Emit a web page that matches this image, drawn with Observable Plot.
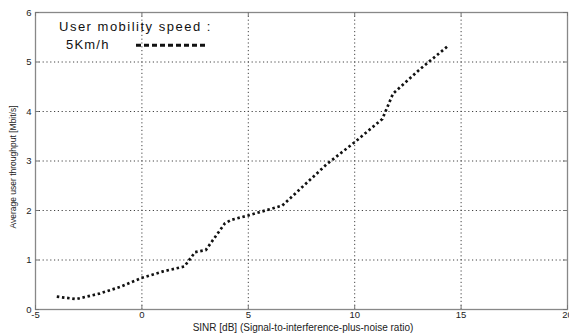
<!DOCTYPE html>
<html>
<head>
<meta charset="utf-8">
<script src="https://cdn.jsdelivr.net/npm/d3@7"></script>
<script src="https://cdn.jsdelivr.net/npm/@observablehq/plot@0.6"></script>
<style>
  html, body { margin: 0; padding: 0; background: #fff; }
</style>
</head>
<body>
<div id="chart"></div>
<script>
// Average user throughput versus SINR, 5 km/h mobility
const sinr       = [-4, -3.1, -2, -1, 0, 1, 2, 2.5, 3, 3.9, 4.2, 5, 6.6, 8.7, 10, 11.3, 11.8, 13, 14.4];
const throughput = [0.26, 0.21, 0.32, 0.46, 0.64, 0.77, 0.87, 1.16, 1.2, 1.74, 1.81, 1.9, 2.1, 2.94, 3.38, 3.85, 4.36, 4.83, 5.33];

const xTicks = [-5, 0, 5, 10, 15, 20];
const yTicks = [0, 1, 2, 3, 4, 5, 6];

const legendTitle = "User mobility speed :";
const seriesName  = "5Km/h";
const xLabel = "SINR [dB] (Signal-to-interference-plus-noise ratio)";
const yLabel = "Average user throughput [Mbit/s]";

const data = sinr.map((x, i) => ({x, y: throughput[i]}));

const W = 569, H = 333;
const M = {top: 12, right: 2, bottom: 24, left: 35};
const innerW = W - M.left - M.right;
const innerH = H - M.top - M.bottom;
const tickLen = 4;

const font = "'Liberation Sans', Arial, Helvetica, sans-serif";
const plain = d => String(d);

const chart = Plot.plot({
  width: W,
  height: H,
  marginTop: M.top,
  marginRight: M.right,
  marginBottom: M.bottom,
  marginLeft: M.left,
  style: {fontFamily: font, fontSize: "9.5px", color: "#222", background: "#fff", overflow: "visible"},
  x: {domain: [-5, 20], ticks: xTicks},
  y: {domain: [0, 6], ticks: yTicks},
  marks: [
    // dotted grid
    Plot.ruleX(xTicks, {x: d => d, stroke: "#444", strokeWidth: 1, strokeDasharray: "1.2 2.6"}),
    Plot.ruleY(yTicks, {y: d => d, stroke: "#444", strokeWidth: 1, strokeDasharray: "1.2 2.6"}),
    // throughput curve
    Plot.line(data, {
      x: "x", y: "y", stroke: "#111", strokeWidth: 2.7,
      strokeDasharray: "2.5 2.7", strokeLinecap: "butt", strokeLinejoin: "miter", curve: "linear"
    }),
    // box and inward tick marks
    Plot.frame({stroke: "#888", strokeWidth: 1.3}),
    Plot.tickX(xTicks, {x: d => d, stroke: "#777", insetTop: innerH - tickLen}),
    Plot.tickX(xTicks, {x: d => d, stroke: "#777", insetBottom: innerH - tickLen}),
    Plot.tickY(yTicks, {y: d => d, stroke: "#777", insetRight: innerW - tickLen}),
    Plot.tickY(yTicks, {y: d => d, stroke: "#777", insetLeft: innerW - tickLen}),
    // tick labels
    Plot.axisX(xTicks, {anchor: "bottom", tickSize: 0, tickPadding: 2, label: null, tickFormat: plain, fill: "#222"}),
    Plot.axisY(yTicks, {anchor: "left", tickSize: 0, tickPadding: 4, label: null, tickFormat: plain, fill: "#222"})
  ]
});

document.getElementById("chart").appendChild(chart);

const svg = d3.select(chart);

// axis titles
svg.append("text")
  .attr("x", 303).attr("y", 331)
  .attr("text-anchor", "middle")
  .attr("font-family", font).attr("font-size", "10px").attr("fill", "#222")
  .text(xLabel);

svg.append("text")
  .attr("transform", "translate(15.5,167) rotate(-90)")
  .attr("text-anchor", "middle")
  .attr("font-family", font).attr("font-size", "8.5px").attr("fill", "#222")
  .text(yLabel);

// legend
const legend = svg.append("g")
  .attr("font-family", font).attr("font-size", "13px").attr("fill", "#111")
  .attr("text-anchor", "start");
legend.append("text").attr("x", 59).attr("y", 31).attr("letter-spacing", "1.5px").text(legendTitle);
legend.append("text").attr("x", 66).attr("y", 48.7).attr("letter-spacing", "1.2px").text(seriesName);
legend.append("line")
  .attr("x1", 136).attr("x2", 208).attr("y1", 45.3).attr("y2", 45.3)
  .attr("stroke", "#111").attr("stroke-width", 3).attr("stroke-dasharray", "5 3");
</script>
</body>
</html>
